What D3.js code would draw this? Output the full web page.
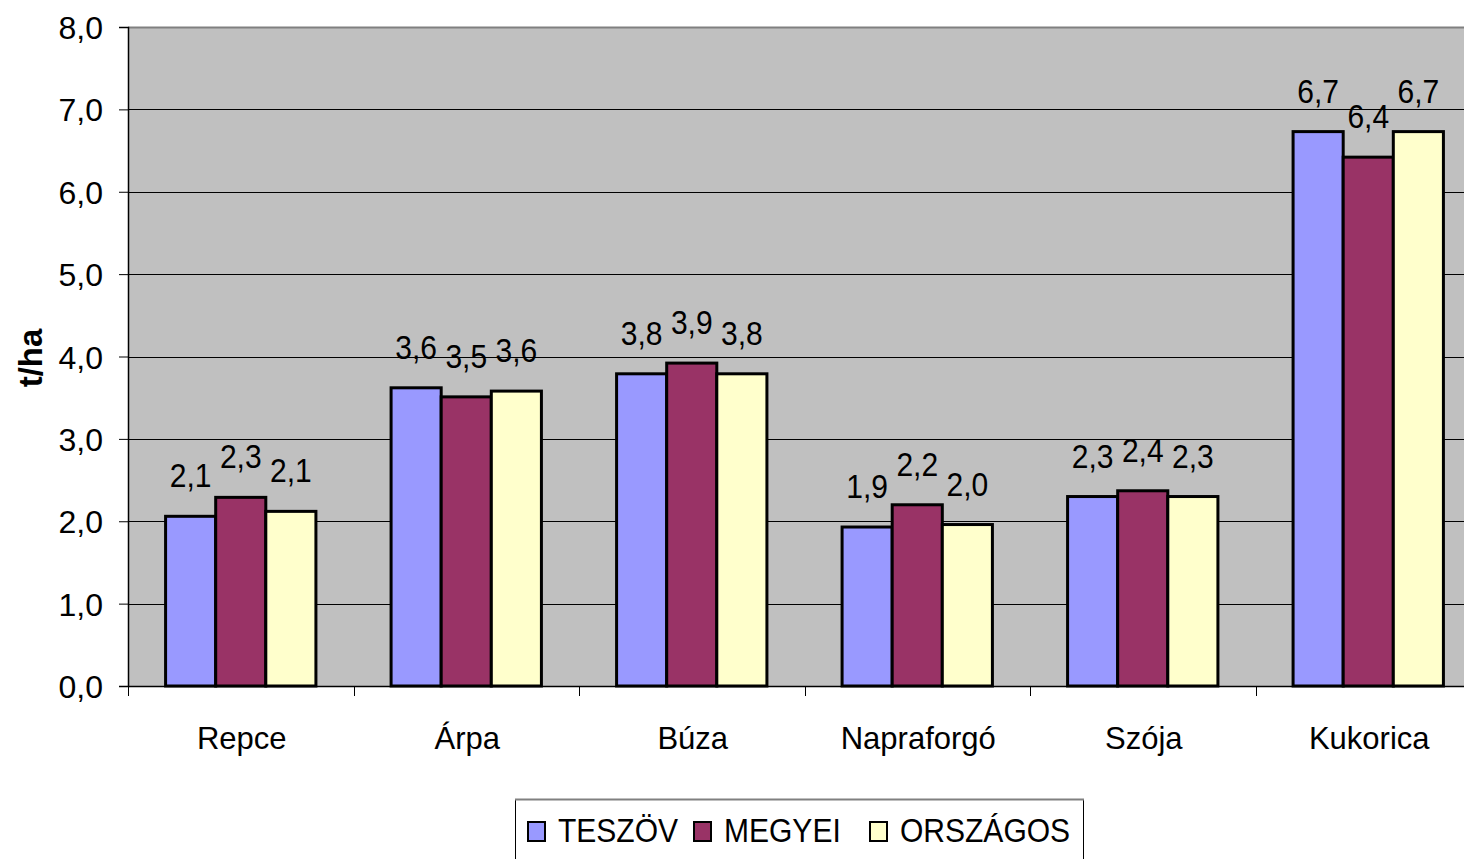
<!DOCTYPE html>
<html>
<head>
<meta charset="utf-8">
<script src="https://cdn.jsdelivr.net/npm/d3@7"></script>
<style>
  body { margin: 0; background: #fff; }
  svg { display: block; font-family: "Liberation Sans", Arial, sans-serif; }
</style>
</head>
<body>
<svg id="chart" width="1464" height="859"></svg>
<script>
// data
const categories = ["Repce", "Árpa", "Búza", "Napraforgó", "Szója", "Kukorica"];
const seriesNames = ["TESZÖV", "MEGYEI", "ORSZÁGOS"];
const teszov = [2.06, 3.62, 3.79, 1.93, 2.30, 6.73];
const megyei = [2.29, 3.51, 3.92, 2.20, 2.37, 6.42];
const orszagos = [2.12, 3.58, 3.79, 1.96, 2.30, 6.73];
const yTicks = [0, 1, 2, 3, 4, 5, 6, 7, 8];
const colors = ["#9999ff", "#993366", "#ffffcc"];

const series = [teszov, megyei, orszagos];

const svg = d3.select("#chart");
const plotLeft = 128, plotRight = 1481, plotTop = 27, plotBottom = 686;

const x = d3.scaleBand().domain(categories).range([plotLeft, plotRight]);
const xs = d3.scaleBand().domain(seriesNames)
    .range([0, x.bandwidth()]).paddingOuter(0.75).paddingInner(0);
const y = d3.scaleLinear().domain([0, 8]).range([plotBottom, plotTop]);

const fmt = v => d3.format(".1f")(v).replace(".", ",");

// plot background
svg.append("rect")
    .attr("x", plotLeft).attr("y", plotTop)
    .attr("width", plotRight - plotLeft).attr("height", plotBottom - plotTop)
    .attr("fill", "#c0c0c0");
svg.append("line")
    .attr("x1", plotLeft).attr("x2", plotRight)
    .attr("y1", plotTop + 0.5).attr("y2", plotTop + 0.5)
    .attr("stroke", "#808080").attr("stroke-width", 2);

// gridlines
svg.append("g")
    .selectAll("line")
    .data(yTicks.filter(d => d > 0 && d < 8))
    .join("line")
    .attr("x1", plotLeft).attr("x2", plotRight)
    .attr("y1", d => Math.round(y(d)) + 0.5)
    .attr("y2", d => Math.round(y(d)) + 0.5)
    .attr("stroke", "#000").attr("stroke-width", 1);

// y axis
const yAxis = svg.append("g")
    .attr("transform", `translate(${plotLeft},0)`)
    .call(d3.axisLeft(y).tickValues(yTicks).tickFormat(fmt).tickSize(9).tickPadding(16));
yAxis.select(".domain").attr("stroke", "#000").attr("stroke-width", 1.5);
yAxis.selectAll(".tick line").attr("stroke", "#000");
yAxis.selectAll("text")
    .attr("font-size", 32).attr("fill", "#000")
    .attr("font-family", "Liberation Sans, Arial, sans-serif")
    .attr("dy", "0.36em");

svg.append("text")
    .attr("transform", "translate(42,358) rotate(-90)")
    .attr("text-anchor", "middle")
    .attr("font-size", 33).attr("font-weight", "bold")
    .text("t/ha");

// x axis
svg.append("line")
    .attr("x1", plotLeft).attr("x2", plotRight)
    .attr("y1", plotBottom + 0.5).attr("y2", plotBottom + 0.5)
    .attr("stroke", "#000").attr("stroke-width", 1.5);
svg.append("g")
    .selectAll("line")
    .data(d3.range(categories.length + 1))
    .join("line")
    .attr("x1", i => Math.round(plotLeft + i * x.step()) + 0.5)
    .attr("x2", i => Math.round(plotLeft + i * x.step()) + 0.5)
    .attr("y1", plotBottom).attr("y2", plotBottom + 10)
    .attr("stroke", "#000");
svg.append("g")
    .selectAll("text")
    .data(categories)
    .join("text")
    .attr("transform", d => `translate(${x(d) + x.bandwidth() / 2 + 1},749) scale(0.97,1)`)
    .attr("text-anchor", "middle")
    .attr("font-size", 32)
    .text(d => d);

// bars
const groups = svg.append("g")
    .selectAll("g")
    .data(seriesNames)
    .join("g")
    .attr("fill", (d, i) => colors[i]);

groups.selectAll("rect")
    .data((s, si) => categories.map((c, ci) => ({ c, s, v: series[si][ci] })))
    .join("rect")
    .attr("x", d => x(d.c) + xs(d.s))
    .attr("y", d => y(d.v))
    .attr("width", xs.bandwidth())
    .attr("height", d => plotBottom - y(d.v))
    .attr("stroke", "#000")
    .attr("stroke-width", 3);

// value labels
groups.selectAll("text")
    .data((s, si) => categories.map((c, ci) => ({ c, s, v: series[si][ci] })))
    .join("text")
    .attr("transform", d =>
        `translate(${x(d.c) + xs(d.s) + xs.bandwidth() / 2},${y(d.v) - 29}) scale(0.91,1)`)
    .attr("text-anchor", "middle")
    .attr("font-size", 33)
    .attr("fill", "#000")
    .text(d => fmt(d.v));

// legend
const legend = svg.append("g");
legend.append("rect")
    .attr("x", 515.5).attr("y", 799.5)
    .attr("width", 568).attr("height", 80)
    .attr("fill", "#fff").attr("stroke", "#000").attr("stroke-width", 1);
legend.append("line")
    .attr("x1", 515).attr("x2", 1084)
    .attr("y1", 799.5).attr("y2", 799.5)
    .attr("stroke", "#808080").attr("stroke-width", 2);
const legendX = [528, 694, 870];
const items = legend.selectAll("g.item")
    .data(seriesNames)
    .join("g")
    .attr("class", "item")
    .attr("transform", (d, i) => `translate(${legendX[i]},822)`);
items.append("rect")
    .attr("width", 17).attr("height", 19)
    .attr("fill", (d, i) => colors[i])
    .attr("stroke", "#000").attr("stroke-width", 2);
items.append("text")
    .attr("transform", "translate(30,20) scale(0.91,1)")
    .attr("font-size", 33)
    .text(d => d);
</script>
</body>
</html>
